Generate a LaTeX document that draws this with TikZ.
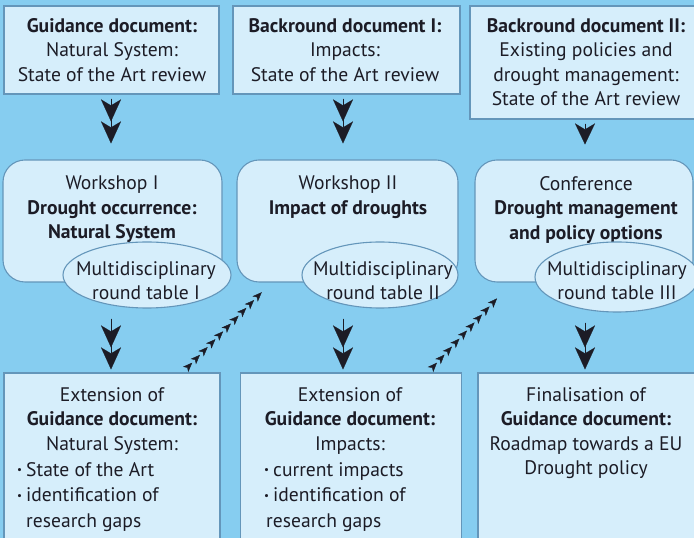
\documentclass[tikz,border=0pt]{standalone}
\usepackage{fontspec}
\setmainfont{PT Sans}
\usetikzlibrary{arrows.meta,decorations.markings,shapes.geometric}
\definecolor{bg}{HTML}{86CDF0}
\definecolor{boxfill}{HTML}{D6EEFB}
\definecolor{boxline}{HTML}{6496BA}
\definecolor{ink}{HTML}{1C1C26}
\newcommand{\bul}{\makebox[9pt][l]{\raisebox{2.5pt}{\fontsize{11}{11}\selectfont•}}}
\begin{document}
\begin{tikzpicture}[x=1pt,y=1pt,
  docbox/.style={draw=boxline, fill=boxfill, line width=1.1pt, inner sep=0pt},
  meetbox/.style={docbox, rounded corners=22pt},
  rtable/.style={ellipse, draw=boxline, fill=boxfill, line width=1.1pt, inner sep=0pt},
  txt/.style={align=center, inner sep=0pt, text=ink, font=\fontsize{19.6}{24.5}\selectfont},
  ltxt/.style={align=left, inner sep=0pt, text=ink, font=\fontsize{19.6}{25.8}\selectfont, anchor=north west},
  dblarrow/.style={draw=ink, fill=ink, line width=0.1pt,
     -{Stealth[length=22pt,width=20pt,inset=6pt] Stealth[length=22pt,width=20pt,inset=6pt]}},
  sglarrow/.style={draw=ink, fill=ink, line width=0.1pt,
     -{Stealth[length=21pt,width=20pt,inset=6pt]}},
  dotarrow/.style={color=ink, decoration={markings,
     mark=between positions 0.07 and 1 step 11pt with {\arrow{Stealth[length=9.5pt,width=7.5pt,inset=2.5pt]}}},
     postaction={decorate}}
]
\useasboundingbox (0,0) rectangle (694,538);
\clip (0,0) rectangle (694,538);
\fill[bg] (0,0) rectangle (694,538);

% top document boxes
\node[docbox, minimum width=215pt, minimum height=88pt] (g1) at (111.5,488) {};
\node[docbox, minimum width=227pt, minimum height=88pt] (b1) at (346.5,488) {};
\node[docbox, minimum width=232pt, minimum height=113pt] (b2) at (586,475.5) {};
\node[txt, anchor=north] (g1t) at (112,520) {\textbf{Guidance document:}\\Natural System:\\State of the Art review};
\node[txt, anchor=north] (b1t) at (345,520) {\textbf{Backround document I:}\\Impacts:\\State of the Art review};
\node[txt, anchor=north] (b2t) at (586,520) {\textbf{Backround document II:}\\Existing policies and\\drought management:\\State of the Art review};

% meetings
\node[meetbox, minimum width=219pt, minimum height=122pt] (w1) at (112.5,317) {};
\node[meetbox, minimum width=221pt, minimum height=122pt] (w2) at (347.5,317) {};
\node[meetbox, minimum width=218pt, minimum height=122pt] (w3) at (584,317) {};
\node[txt, anchor=north] (w1t) at (112,362) {Workshop I\\\textbf{Drought occurrence:}\\\textbf{Natural System}};
\node[txt, anchor=north] (w2t) at (348,362) {Workshop II\\\textbf{Impact of droughts}};
\node[txt, anchor=north] (w3t) at (586,362) {Conference\\\textbf{Drought management}\\\textbf{and policy options}};

% round tables
\node[rtable, minimum width=168pt, minimum height=66pt] (m1) at (147,263) {};
\node[rtable, minimum width=156pt, minimum height=66pt] (m2) at (380,263) {};
\node[rtable, minimum width=164pt, minimum height=70pt] (m3) at (617,261) {};
\node[txt, anchor=north] (m1t) at (146,277) {Multidisciplinary\\round table I};
\node[txt, anchor=north] (m2t) at (383,277) {Multidisciplinary\\round table II};
\node[txt, anchor=north] (m3t) at (617,277) {Multidisciplinary\\round table III};

% bottom boxes
\node[docbox, minimum width=216pt, minimum height=175pt] (x1) at (112,77.5) {};
\node[docbox, minimum width=221pt, minimum height=175pt] (x2) at (351,77.5) {};
\node[docbox, minimum width=224pt, minimum height=175pt] (x3) at (590,77.5) {};
\node[txt, anchor=north] (x1t) at (112,151) {Extension of\\\textbf{Guidance document:}\\Natural System:};
\node[ltxt] (x1l) at (17,76) {\bul State of the Art\\\bul identification of\\\hspace{9pt}research gaps};
\node[txt, anchor=north] (x2t) at (350,151) {Extension of\\\textbf{Guidance document:}\\Impacts:};
\node[ltxt] (x2l) at (264,76) {\bul current impacts\\\bul identification of\\\hspace{2pt}research gaps};
\node[txt, anchor=north] (x3t) at (586,151) {Finalisation of\\\textbf{Guidance document:}\\Roadmap towards a EU\\Drought policy};

% vertical arrows
\draw[dblarrow, shorten <=4pt, shorten >=16pt] (111,0 |- g1.south) -- (111,0 |- w1.north);
\draw[dblarrow, shorten <=4pt, shorten >=16pt] (343,0 |- b1.south) -- (343,0 |- w2.north);
\draw[sglarrow, shorten <=4pt, shorten >=15pt] (585,0 |- b2.south) -- (585,0 |- w3.north);
\draw[dblarrow, shorten <=36pt, shorten >=3pt] (111,0 |- w1.south) -- (111,0 |- x1.north);
\draw[dblarrow, shorten <=36pt, shorten >=3pt] (343,0 |- w2.south) -- (343,0 |- x2.north);
\draw[dblarrow, shorten <=40pt, shorten >=3pt] (585,0 |- w3.south) -- (585,0 |- x3.north);

% dotted feedback arrows
\coordinate (d1s) at (187,170);
\coordinate (d1e) at (262,246);
\coordinate (d2s) at (432,170);
\coordinate (d2e) at (503,246);
\path[dotarrow] (d1s) -- (d1e);
\path[dotarrow] (d2s) -- (d2e);
\end{tikzpicture}
\end{document}
